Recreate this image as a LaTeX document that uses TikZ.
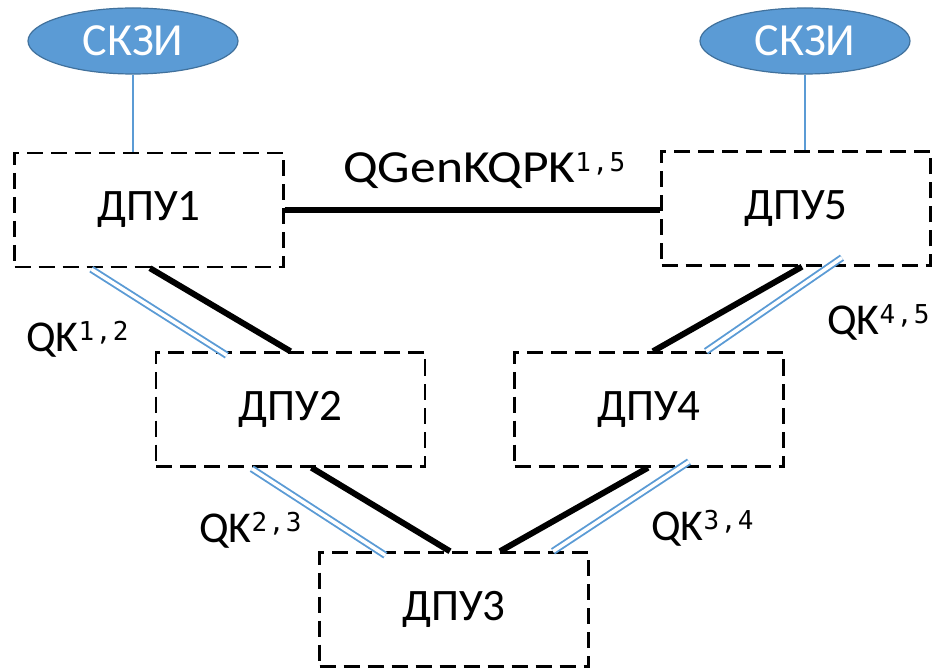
\documentclass[tikz,border=0pt]{standalone}
\usepackage{fontspec}
\setmainfont{Carlito}
\newfontfamily\monof{DejaVu Sans Mono}
\usetikzlibrary{shapes.geometric,calc}
\definecolor{skblue}{HTML}{5B9BD5}
\definecolor{skedge}{HTML}{41719C}
\newcommand\qsup[2]{\raisebox{11pt}{\fontsize{26}{26}\selectfont\monof #1\kern1.5pt,\kern1.5pt#2}}
\tikzset{
  dpu/.style={draw, dash pattern=on 16pt off 8pt, line width=2.4pt, minimum width=269pt, minimum height=114pt, inner sep=0pt, font=\fontsize{45}{45}\selectfont},
  skzi/.style={ellipse, draw=skedge, line width=1.2pt, fill=skblue, minimum width=210pt, minimum height=66pt, inner sep=0pt, text=white, font=\fontsize{46}{46}\selectfont},
  link/.style={line width=6pt},
  qlink/.style={draw=skblue, double=white, double distance=3.5pt, line width=1.9pt},
  feed/.style={draw=skblue, line width=2pt},
  lbl/.style={anchor=base west, inner sep=0pt, font=\fontsize{44}{44}\selectfont}
}
\begin{document}
\begin{tikzpicture}[x=1pt,y=-1pt]
\useasboundingbox (0,0) rectangle (932,668);
\node[skzi] (e1) at (133,41) {СКЗИ};
\node[skzi] (e2) at (805,41) {СКЗИ};
\node[dpu] (d1) at (149,210) {ДПУ1};
\node[dpu] (d5) at (796,208.5) {ДПУ5};
\node[dpu] (d2) at (290.5,409.5) {ДПУ2};
\node[dpu] (d4) at (649,409.5) {ДПУ4};
\node[dpu] (d3) at (454,609.5) {ДПУ3};
% СКЗИ feeds
\draw[feed] (e1.south) -- (e1.south |- d1.north);
\draw[feed] (e2.south) -- (e2.south |- d5.north);
% QGenKQPK link
\draw[link] (d1.east) -- (d1.east -| d5.west);
% black links
\coordinate (b12a) at ([xshift=1pt]d1.south);
\coordinate (b12b) at (d2.north);
\draw[link] (b12a) -- (b12b);
\coordinate (b23a) at ([xshift=21pt]d2.south);
\coordinate (b23b) at ([xshift=-4pt]d3.north);
\draw[link] (b23a) -- (b23b);
\coordinate (b43a) at ([xshift=-1pt]d4.south);
\coordinate (b43b) at ([xshift=46pt]d3.north);
\draw[link] (b43a) -- (b43b);
\coordinate (b54a) at ([xshift=6pt]d5.south);
\coordinate (b54b) at ([xshift=4pt]d4.north);
\draw[link] (b54a) -- (b54b);
% quantum channels
\coordinate (q12a) at ([xshift=78pt,yshift=-1pt]d1.south west);
\coordinate (q12b) at ([xshift=72pt,yshift=-4pt]d2.north west);
\draw[qlink] (q12a) -- (q12b);
\coordinate (q23a) at ([xshift=97pt,yshift=-1pt]d2.south west);
\coordinate (q23b) at ([xshift=67pt,yshift=-4pt]d3.north west);
\draw[qlink] (q23a) -- (q23b);
\coordinate (q34a) at ([xshift=40pt,yshift=6pt]d4.south);
\coordinate (q34b) at ([xshift=99pt]d3.north);
\draw[qlink] (q34a) -- (q34b);
\coordinate (q45a) at ([xshift=46pt,yshift=9pt]d5.south);
\coordinate (q45b) at ([xshift=57pt]d4.north);
\draw[qlink] (q45a) -- (q45b);
% labels
\node[lbl] (l15) at (343,183) {\scalebox{1.12}[1]{\fontsize{46}{46}\selectfont QGenKQPK}\qsup{1}{5}};
\node[lbl] (l12) at (26,352) {QK\qsup{1}{2}};
\node[lbl] (l23) at (199,542) {QK\qsup{2}{3}};
\node[lbl] (l34) at (651,540) {QK\qsup{3}{4}};
\node[lbl] (l45) at (827,335) {QK\qsup{4}{5}};
\end{tikzpicture}
\end{document}
